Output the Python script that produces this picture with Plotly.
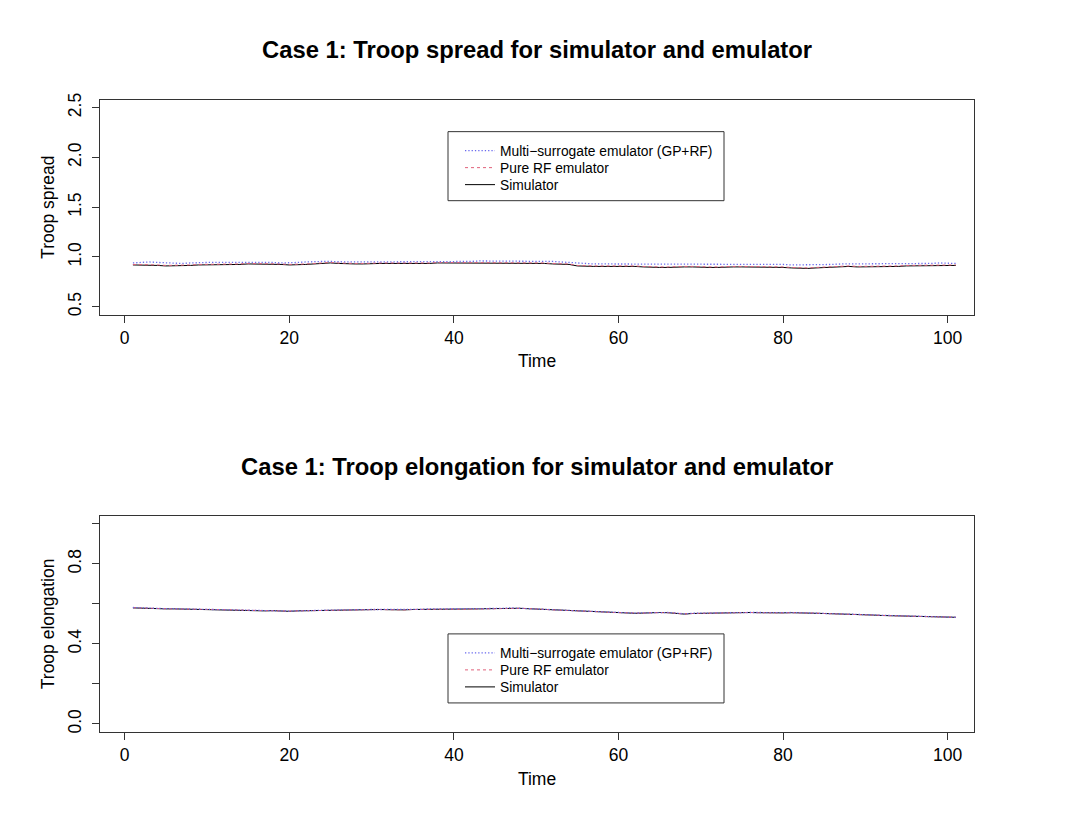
import plotly.graph_objects as go

time = list(range(1, 102))

spread_sim = [0.92,0.92,0.92,0.915,0.91,0.91,0.91,0.915,0.92,0.92,
              0.925,0.92,0.92,0.925,0.93,0.93,0.93,0.93,0.925,0.92,
              0.92,0.925,0.93,0.935,0.94,0.935,0.93,0.93,0.93,0.935,
              0.935,0.935,0.935,0.93,0.935,0.935,0.935,0.94,0.94,0.935,
              0.935,0.935,0.94,0.94,0.94,0.935,0.935,0.935,0.935,0.935,
              0.935,0.93,0.93,0.925,0.91,0.905,0.905,0.905,0.905,0.905,
              0.91,0.905,0.90,0.895,0.895,0.895,0.90,0.90,0.90,0.895,
              0.895,0.895,0.90,0.90,0.90,0.90,0.895,0.895,0.90,0.895,
              0.89,0.885,0.885,0.89,0.895,0.90,0.905,0.905,0.90,0.90,
              0.90,0.90,0.905,0.905,0.91,0.91,0.915,0.91,0.91,0.915,0.915]

spread_rf = [0.925,0.925,0.925,0.92,0.915,0.915,0.915,0.92,0.925,0.925,
             0.93,0.925,0.925,0.93,0.935,0.935,0.935,0.935,0.93,0.925,
             0.925,0.93,0.935,0.94,0.945,0.94,0.935,0.935,0.935,0.94,
             0.94,0.94,0.94,0.935,0.94,0.94,0.94,0.945,0.945,0.94,
             0.94,0.94,0.945,0.945,0.945,0.94,0.94,0.94,0.94,0.94,
             0.94,0.935,0.935,0.93,0.915,0.91,0.91,0.91,0.91,0.91,
             0.915,0.91,0.905,0.90,0.90,0.90,0.905,0.905,0.905,0.90,
             0.90,0.90,0.905,0.905,0.905,0.905,0.90,0.90,0.905,0.90,
             0.895,0.89,0.89,0.895,0.90,0.905,0.91,0.91,0.905,0.905,
             0.905,0.905,0.91,0.91,0.915,0.915,0.92,0.915,0.915,0.92,0.92]

spread_multi = [0.94,0.945,0.95,0.945,0.94,0.935,0.935,0.94,0.945,0.945,
                0.945,0.945,0.95,0.95,0.95,0.95,0.95,0.945,0.94,0.94,
                0.945,0.95,0.955,0.955,0.955,0.95,0.95,0.95,0.95,0.955,
                0.955,0.955,0.955,0.95,0.955,0.955,0.955,0.955,0.955,0.955,
                0.955,0.955,0.96,0.96,0.96,0.955,0.955,0.955,0.955,0.955,
                0.955,0.955,0.95,0.945,0.935,0.93,0.93,0.93,0.93,0.93,
                0.93,0.93,0.925,0.925,0.925,0.925,0.925,0.925,0.925,0.925,
                0.925,0.925,0.925,0.925,0.925,0.925,0.925,0.925,0.925,0.925,
                0.92,0.92,0.92,0.92,0.925,0.925,0.93,0.93,0.93,0.93,
                0.93,0.93,0.93,0.93,0.935,0.935,0.935,0.935,0.94,0.94,0.935]

elong_sim = [0.58,0.578,0.578,0.576,0.575,0.575,0.574,0.574,0.573,0.572,
             0.572,0.571,0.570,0.568,0.565,0.564,0.565,0.566,0.564,0.563,
             0.565,0.566,0.567,0.567,0.568,0.569,0.571,0.572,0.571,0.571,
             0.572,0.571,0.569,0.570,0.572,0.572,0.574,0.575,0.574,0.573,
             0.573,0.574,0.575,0.576,0.577,0.578,0.579,0.578,0.576,0.574,
             0.572,0.570,0.568,0.566,0.566,0.564,0.562,0.559,0.557,0.556,
             0.554,0.553,0.554,0.556,0.557,0.556,0.553,0.549,0.552,0.553,
             0.553,0.554,0.555,0.556,0.557,0.557,0.556,0.555,0.553,0.555,
             0.556,0.556,0.555,0.553,0.552,0.551,0.551,0.550,0.549,0.546,
             0.544,0.542,0.541,0.540,0.539,0.537,0.535,0.533,0.532,0.532,0.533]

elong_rf = [0.581,0.579,0.578,0.577,0.576,0.575,0.575,0.574,0.573,0.573,
            0.572,0.571,0.570,0.567,0.566,0.565,0.565,0.566,0.565,0.564,
            0.565,0.566,0.567,0.568,0.568,0.570,0.571,0.572,0.572,0.571,
            0.572,0.571,0.570,0.570,0.572,0.573,0.574,0.575,0.574,0.574,
            0.573,0.574,0.576,0.576,0.577,0.578,0.579,0.578,0.577,0.574,
            0.572,0.571,0.568,0.567,0.566,0.565,0.562,0.560,0.557,0.556,
            0.555,0.554,0.554,0.556,0.557,0.556,0.554,0.550,0.552,0.553,
            0.554,0.554,0.555,0.556,0.557,0.557,0.556,0.555,0.554,0.555,
            0.556,0.556,0.555,0.554,0.552,0.551,0.551,0.550,0.549,0.547,
            0.544,0.543,0.541,0.540,0.539,0.537,0.535,0.534,0.532,0.532,0.533]

elong_multi = [0.582,0.580,0.579,0.577,0.576,0.576,0.575,0.574,0.574,0.573,
               0.572,0.572,0.570,0.568,0.566,0.565,0.566,0.566,0.565,0.564,
               0.565,0.567,0.567,0.568,0.569,0.570,0.571,0.573,0.572,0.572,
               0.572,0.572,0.570,0.571,0.572,0.573,0.575,0.575,0.575,0.574,
               0.574,0.574,0.576,0.577,0.577,0.578,0.580,0.578,0.577,0.575,
               0.573,0.571,0.569,0.567,0.567,0.565,0.563,0.560,0.558,0.557,
               0.555,0.554,0.555,0.556,0.558,0.557,0.554,0.550,0.553,0.554,
               0.554,0.555,0.556,0.556,0.558,0.557,0.557,0.556,0.554,0.556,
               0.557,0.556,0.556,0.554,0.553,0.552,0.551,0.551,0.549,0.547,
               0.545,0.543,0.542,0.540,0.539,0.538,0.536,0.534,0.533,0.533,0.533]

spread_ticks = [0.5, 1.0, 1.5, 2.0, 2.5]
spread_ticktext = ["0.5", "1.0", "1.5", "2.0", "2.5"]
elong_ticks = [0.0, 0.2, 0.4, 0.6, 0.8, 1.0]
elong_ticktext = ["0.0", "", "0.4", "", "0.8", ""]
time_ticks = [0, 20, 40, 60, 80, 100]

names = ["Multi\u2212surrogate emulator (GP+RF)", "Pure RF emulator", "Simulator"]
colors = ["#6a6aee", "#e0607a", "black"]
widths = [1.3, 1, 1]
dashes = ["1.3px,2px", "3px,3px", "solid"]

W, H = 1074, 833
OFF = 8  # page body margin
FW, FH = W - 2 * OFF, H - 2 * OFF
FONT = "Liberation Sans, Arial, Helvetica, sans-serif"

def px_x(p):
    return (p - OFF) / FW

def px_y(p):
    q = (p - 7.5) / 0.9897  # compensate observed vertical drift
    return 1 - (q - OFF) / FH

fig = go.Figure()

legend_rows = [[151, 168, 185], [653, 670, 687]]
series_sets = [
    (spread_multi, spread_rf, spread_sim, "x", "y"),
    (elong_multi, elong_rf, elong_sim, "x2", "y2"),
]
legend_layout = {}
for p, (multi, rf, sim, xa, ya) in enumerate(series_sets):
    data = [multi, rf, sim]
    for idx in [2, 1, 0]:
        lg_num = p * 3 + idx + 1
        lg_name = "legend" if lg_num == 1 else f"legend{lg_num}"
        fig.add_trace(go.Scatter(
            x=time, y=data[idx], mode="lines", name=names[idx],
            line=dict(color=colors[idx], width=widths[idx], dash=dashes[idx]),
            xaxis=xa, yaxis=ya, legend=lg_name,
        ))
        legend_layout[lg_name] = dict(
            x=px_x(460), y=px_y(legend_rows[p][idx]), xanchor="left", yanchor="middle",
            bgcolor="rgba(0,0,0,0)", borderwidth=0,
            font=dict(size=13.8, family=FONT, color="black"), itemwidth=30,
        )

xdom = [px_x(100), px_x(974)]
TICKF = dict(size=17.5, color="black", family=FONT)
ax_common = dict(
    showline=True, linecolor="#333", linewidth=1, mirror=True,
    ticks="outside", ticklen=7, tickcolor="#333", tickwidth=1,
    showgrid=False, zeroline=False, tickfont=TICKF,
)

fig.update_layout(
    width=FW, height=FH,
    margin=dict(l=0, r=0, t=0, b=0),
    paper_bgcolor="white", plot_bgcolor="white",
    font=dict(family=FONT, color="black"),
    xaxis=dict(domain=xdom, range=[-3, 103.2], tickvals=time_ticks, anchor="y",
               title=dict(text="Time", font=dict(size=17.5), standoff=8), **ax_common),
    yaxis=dict(domain=[px_y(315), px_y(100)], range=[0.42, 2.58], tickvals=spread_ticks,
               ticktext=spread_ticktext, tickangle=-90, anchor="x", ticklabelstandoff=4,
               title=dict(text="Troop spread", font=dict(size=17.5), standoff=5), **ax_common),
    xaxis2=dict(domain=xdom, range=[-3, 103.2], tickvals=time_ticks, anchor="y2",
                title=dict(text="Time", font=dict(size=17.5), standoff=8), **ax_common),
    yaxis2=dict(domain=[px_y(732), px_y(516)], range=[-0.04, 1.04], tickvals=elong_ticks,
                ticktext=elong_ticktext, tickangle=-90, anchor="x2", ticklabelstandoff=4,
                title=dict(text="Troop elongation", font=dict(size=17.5), standoff=5), **ax_common),
    showlegend=True,
    **legend_layout,
)

for y0, y1 in [(132, 201), (634, 703)]:
    fig.add_shape(type="rect", xref="paper", yref="paper",
                  x0=px_x(448), x1=px_x(724), y0=px_y(y1), y1=px_y(y0),
                  line=dict(color="#333", width=1), fillcolor="rgba(0,0,0,0)")

fig.add_annotation(text="<b>Case 1: Troop spread for simulator and emulator</b>",
                   xref="paper", yref="paper", x=px_x(537), y=px_y(50),
                   xanchor="center", yanchor="middle",
                   showarrow=False, font=dict(size=23.8, family=FONT))
fig.add_annotation(text="<b>Case 1: Troop elongation for simulator and emulator</b>",
                   xref="paper", yref="paper", x=px_x(537), y=px_y(467),
                   xanchor="center", yanchor="middle",
                   showarrow=False, font=dict(size=23.8, family=FONT))

fig.write_html("out.html")
